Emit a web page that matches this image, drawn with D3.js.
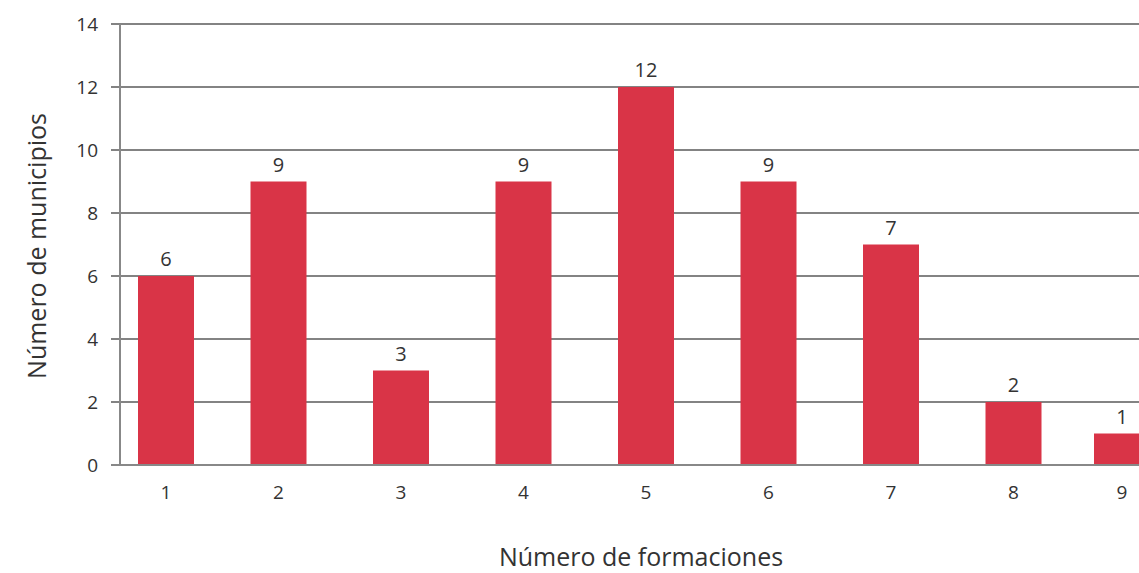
<!DOCTYPE html>
<html>
<head>
<meta charset="utf-8">
<script src="https://cdn.jsdelivr.net/npm/d3@7"></script>
<style>
  html, body { margin: 0; padding: 0; background: #fff; }
  svg { display: block; font-family: "Open Sans", "Noto Sans", sans-serif; }
</style>
</head>
<body>
<svg id="chart" width="1139" height="573"></svg>
<script>
// Number of formations per municipality and how many municipalities have each
const formaciones = [1, 2, 3, 4, 5, 6, 7, 8, 9];
const municipios = [6, 9, 3, 9, 12, 9, 7, 2, 1];
const yTicks = [0, 2, 4, 6, 8, 10, 12, 14];

const svg = d3.select("#chart");
const plot = { left: 120, right: 1139, top: 24, bottom: 465 };
const barW = 56;

const y = d3.scaleLinear().domain([0, 14]).range([plot.bottom, plot.top]);
const x = d3.scaleLinear().domain([1, 2, 8, 9]).range([166, 278.5, 1013.5, 1122]);

// horizontal gridlines with short ticks left of the axis
svg.append("g").selectAll("line")
  .data(yTicks.filter(d => d > 0))
  .join("line")
  .attr("x1", plot.left - 9).attr("x2", plot.right)
  .attr("y1", d => y(d)).attr("y2", d => y(d))
  .attr("stroke", "#5a5a5a").attr("stroke-width", 1.5);

// bars
svg.append("g").selectAll("rect")
  .data(formaciones)
  .join("rect")
  .attr("x", (d) => x(d) - barW / 2)
  .attr("width", barW)
  .attr("y", (d, i) => y(municipios[i]))
  .attr("height", (d, i) => y(0) - y(municipios[i]))
  .attr("fill", "#d93447");

// baseline and vertical axis
svg.append("line")
  .attr("x1", plot.left - 9).attr("x2", plot.right)
  .attr("y1", y(0)).attr("y2", y(0))
  .attr("stroke", "#888").attr("stroke-width", 2);
svg.append("line")
  .attr("x1", plot.left).attr("x2", plot.left)
  .attr("y1", y(14)).attr("y2", y(0))
  .attr("stroke", "#888").attr("stroke-width", 2);

// y tick labels
svg.append("g").selectAll("text")
  .data(yTicks)
  .join("text")
  .attr("x", 98).attr("y", d => y(d))
  .attr("dy", "0.35em")
  .attr("text-anchor", "end")
  .attr("font-size", 19)
  .attr("fill", "#333")
  .text(d => d);

// x tick labels
svg.append("g").selectAll("text")
  .data(formaciones)
  .join("text")
  .attr("x", d => x(d)).attr("y", 492)
  .attr("dy", "0.35em")
  .attr("text-anchor", "middle")
  .attr("font-size", 19)
  .attr("fill", "#333")
  .text(d => d);

// value labels above bars
svg.append("g").selectAll("text")
  .data(formaciones)
  .join("text")
  .attr("x", d => x(d))
  .attr("y", (d, i) => y(municipios[i]) - 10)
  .attr("text-anchor", "middle")
  .attr("font-size", 20)
  .attr("fill", "#333")
  .text((d, i) => municipios[i]);

// axis titles
svg.append("text")
  .attr("x", 641).attr("y", 557)
  .attr("dy", "0.35em")
  .attr("text-anchor", "middle")
  .attr("font-size", 25)
  .attr("fill", "#333")
  .text("Número de formaciones");

svg.append("text")
  .attr("transform", "translate(37,246) rotate(-90)")
  .attr("dy", "0.35em")
  .attr("text-anchor", "middle")
  .attr("font-size", 25)
  .attr("fill", "#333")
  .text("Número de municipios");
</script>
</body>
</html>
